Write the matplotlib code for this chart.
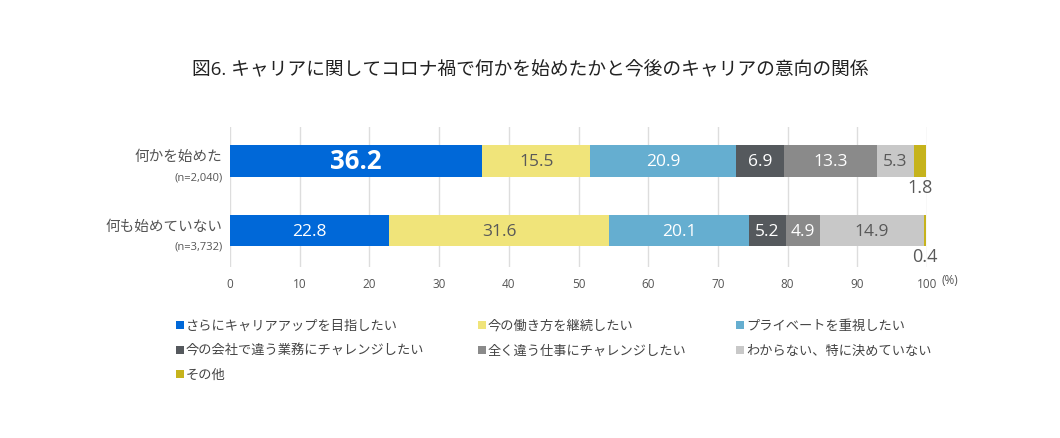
import matplotlib
matplotlib.use("Agg")
import matplotlib.pyplot as plt
import numpy as np
from matplotlib.patches import Rectangle

plt.rcParams['font.family'] = ['Open Sans', 'Noto Sans CJK JP', 'DejaVu Sans']

title = "図6. キャリアに関してコロナ禍で何かを始めたかと今後のキャリアの意向の関係"
groups = ["何かを始めた", "何も始めていない"]
group_n = ["(n=2,040)", "(n=3,732)"]
series = ["さらにキャリアアップを目指したい", "今の働き方を継続したい", "プライベートを重視したい",
          "今の会社で違う業務にチャレンジしたい", "全く違う仕事にチャレンジしたい",
          "わからない、特に決めていない", "その他"]
values_started = [36.2, 15.5, 20.9, 6.9, 13.3, 5.3, 1.8]
values_not = [22.8, 31.6, 20.1, 5.2, 4.9, 14.9, 0.4]
colors = ["#0068d8", "#f0e47a", "#65aed0", "#55595d", "#8a8a8a", "#c8c8c8", "#c6b31c"]
text_colors = ["white", "#595959", "white", "white", "white", "#595959", "#595959"]
xticks = [0, 10, 20, 30, 40, 50, 60, 70, 80, 90, 100]

data = np.array([values_started, values_not])

W, H = 1060, 439
fig = plt.figure(figsize=(W/100, H/100), dpi=100)
ax = fig.add_axes([230/W, 1-268/H, (927-230)/W, 140/H])

ypos = [0, 1]
lefts = np.zeros(2)
for j in range(len(series)):
    vals = data[:, j]
    ax.barh(ypos, vals, left=lefts, height=0.46, color=colors[j], zorder=3)
    for i in range(2):
        v = vals[i]
        cx = lefts[i] + v / 2
        if v < 3:
            ax.text(cx, ypos[i] + 0.37, f"{v:.1f}", ha='center', va='center',
                    fontsize=13, color="#595959", zorder=4)
        elif i == 0 and j == 0:
            ax.text(cx, ypos[i], f"{v:.1f}", ha='center', va='center', fontsize=18.5,
                    fontweight='bold', color='white', zorder=4)
        else:
            ax.text(cx, ypos[i], f"{v:.1f}", ha='center', va='center', fontsize=12.5,
                    color=text_colors[j], zorder=4)
    lefts += vals

ax.set_xlim(0, 100)
ax.set_ylim(1.525, -0.489)
ax.set_xticks(xticks)
ax.set_xticklabels([str(t) for t in xticks], fontsize=8.5, color="#555555")
ax.tick_params(axis='x', length=0, pad=7)
ax.set_yticks([])
ax.grid(axis='x', color="#dddddd", linewidth=1, zorder=0)
for s in ax.spines.values():
    s.set_visible(False)
fig.text(941/W, 1-280/H, "(%)", fontsize=8.5, color="#555555", ha='left', va='center')

for i, (g, n) in enumerate(zip(groups, group_n)):
    ax.text(-1.1, ypos[i] - 0.06, g, ha='right', va='center', fontsize=10.5, color="#555555")
    ax.text(-1.1, ypos[i] + 0.23, n, ha='right', va='center', fontsize=8, color="#555555")

fig.text(0.5, 1-70/H, title, ha='center', va='center', fontsize=13.5, color="#222222")

# legend, row-major in 3 columns
col_x = [176, 478, 736]
row_y = [326, 351, 375]
for k, (lab, c) in enumerate(zip(series, colors)):
    r, cidx = divmod(k, 3)
    x, y = col_x[cidx], row_y[r]
    fig.patches.append(Rectangle((x/W, 1-(y+4)/H), 8/W, 8/H, transform=fig.transFigure,
                                 facecolor=c, edgecolor='none'))
    fig.text((x+10)/W, 1-y/H, lab, fontsize=9.5, color="#444444", ha='left', va='center')

fig.savefig("out.png", dpi=100)
